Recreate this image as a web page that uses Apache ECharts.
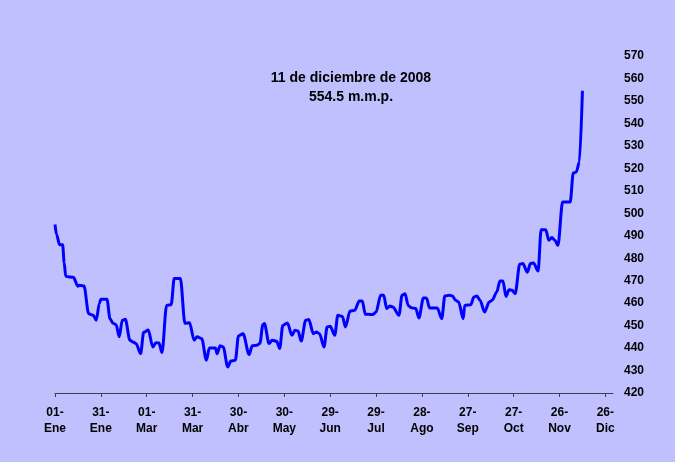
<!DOCTYPE html>
<html>
<head>
<meta charset="utf-8">
<script src="https://cdn.jsdelivr.net/npm/echarts@6/dist/echarts.min.js"></script>
<style>
  html, body { margin: 0; padding: 0; background: #c0c0ff; }
  #chart { width: 675px; height: 462px; }
</style>
</head>
<body>
<div id="chart"></div>
<script>
// fechas (2008) y valores
const dates = [
  '01-01', '01-02', '01-04', '01-06', '01-07', '01-08', '01-11', '01-13', '01-16', '01-17',
  '01-20', '01-23', '01-26', '01-28', '01-30', '01-31', '02-04', '02-06', '02-08', '02-10',
  '02-12', '02-14', '02-16', '02-19', '02-21', '02-23', '02-26', '02-28', '03-02', '03-05',
  '03-07', '03-09', '03-11', '03-14', '03-17', '03-19', '03-23', '03-26', '03-29', '04-01',
  '04-03', '04-06', '04-09', '04-11', '04-15', '04-16', '04-18', '04-20', '04-23', '04-25',
  '04-28', '04-30', '05-03', '05-07', '05-09', '05-12', '05-14', '05-16', '05-17', '05-20',
  '05-22', '05-25', '05-27', '05-29', '06-01', '06-04', '06-06', '06-08', '06-10', '06-13',
  '06-15', '06-18', '06-20', '06-22', '06-25', '06-27', '06-29', '07-02', '07-04', '07-07',
  '07-09', '07-12', '07-15', '07-18', '07-20', '07-22', '07-24', '07-27', '07-29', '08-01',
  '08-03', '08-05', '08-07', '08-09', '08-13', '08-15', '08-17', '08-19', '08-21', '08-24',
  '08-26', '08-29', '08-31', '09-02', '09-07', '09-10', '09-12', '09-15', '09-17', '09-19',
  '09-21', '09-24', '09-25', '09-29', '10-01', '10-03', '10-05', '10-08', '10-11', '10-13',
  '10-16', '10-18', '10-20', '10-22', '10-24', '10-26', '10-28', '10-31', '11-02', '11-05',
  '11-07', '11-09', '11-12', '11-14', '11-17', '11-19', '11-21', '11-23', '11-25', '11-28',
  '12-03', '12-05', '12-07', '12-09', '12-11'
]
const values = [
  495, 490.5, 486, 486, 478, 472, 471.6, 471.5, 467.5, 468,
  467.6, 455.3, 454.6, 452.4, 459.8, 461.7, 461.7, 453, 451, 450.4,
  445, 452.4, 452.8, 443.5, 442.7, 442, 437.5, 447, 448, 440.5,
  442.4, 442.2, 438, 459, 459.3, 471, 471, 451, 451.3, 443.5,
  445, 444.2, 434.6, 440, 440, 437.5, 441, 440.5, 431.6, 434.2,
  434.6, 445.4, 446.4, 437.1, 441, 441.2, 442, 450.5, 450.9, 442,
  443.5, 443, 439.8, 450.1, 451.2, 445.7, 447.9, 447.6, 443.1, 452.4,
  452.7, 446.4, 447.1, 446.4, 440.5, 449.4, 449.7, 445.7, 454.6, 454.1,
  449.4, 456.5, 456.8, 460.9, 460.9, 455, 455, 454.9, 456, 463.5,
  463.5, 457.6, 458.7, 458.3, 454.6, 463.5, 464.2, 459, 458, 457.6,
  453.4, 462.3, 462.3, 457.8, 457.8, 453.1, 463.2, 463.5, 463.2, 461.3,
  460.5, 453.1, 459, 459.3, 462.7, 463.2, 461.3, 456, 460.5, 461.3,
  465, 469.8, 469.8, 463, 466, 465.7, 464.2, 477.3, 477.6, 473.8,
  477.6, 477.9, 474.3, 492.7, 492.7, 488, 489.2, 488, 485.7, 505,
  505, 517.9, 518.4, 522.8, 554.5
]
// etiquetas del eje x, una cada 30 días
const tickLabels = [
  '01-\nEne', '31-\nEne', '01-\nMar', '31-\nMar', '30-\nAbr', '30-\nMay', '29-\nJun',
  '29-\nJul', '28-\nAgo', '27-\nSep', '27-\nOct', '26-\nNov', '26-\nDic'
]
const noteLines = ['11 de diciembre de 2008', '554.5 m.m.p.']

const font = 'Arial, "Liberation Sans", sans-serif'
const dayMs = 86400000
const start = Date.UTC(2008, 0, 1)

// día del año a partir de 'MM-DD'
function dayOf (s) {
  const [m, d] = s.split('-').map(Number)
  return (Date.UTC(2008, m - 1, d) - start) / dayMs
}

const seriesData = dates.map((d, i) => [dayOf(d), values[i]])
const tickValues = tickLabels.map((t, i) => i * 30)

const myChart = echarts.init(document.getElementById('chart'))
myChart.setOption({
  backgroundColor: '#c0c0ff',
  animation: false,
  grid: { left: 55, right: 62, top: 56, bottom: 69 },
  graphic: [
    {
      type: 'text',
      x: 351,
      y: 69,
      style: {
        text: noteLines.join('\n'),
        align: 'center',
        verticalAlign: 'top',
        font: 'bold 14px ' + font,
        lineHeight: 19,
        fill: '#000'
      }
    }
  ],
  xAxis: {
    type: 'value',
    min: 0,
    max: 365,
    interval: 30,
    splitLine: { show: false },
    axisLine: { show: true, lineStyle: { color: '#404040', width: 1 } },
    axisTick: {
      show: true,
      length: 4,
      customValues: tickValues,
      lineStyle: { color: '#404040' }
    },
    axisLabel: {
      customValues: tickValues,
      formatter: v => tickLabels[Math.round(v / 30)] || '',
      color: '#000',
      fontFamily: font,
      fontWeight: 'bold',
      fontSize: 12,
      lineHeight: 16,
      margin: 12
    }
  },
  yAxis: {
    type: 'value',
    position: 'right',
    min: 420,
    max: 570,
    interval: 10,
    splitLine: { show: false },
    axisLine: { show: false },
    axisTick: { show: false },
    axisLabel: {
      color: '#000',
      fontFamily: font,
      fontWeight: 'bold',
      fontSize: 12,
      margin: 11
    }
  },
  series: [
    {
      type: 'line',
      data: seriesData,
      showSymbol: false,
      smooth: 0.3,
      smoothMonotone: 'x',
      lineStyle: { color: '#0000ff', width: 3 }
    }
  ]
})
</script>
</body>
</html>
